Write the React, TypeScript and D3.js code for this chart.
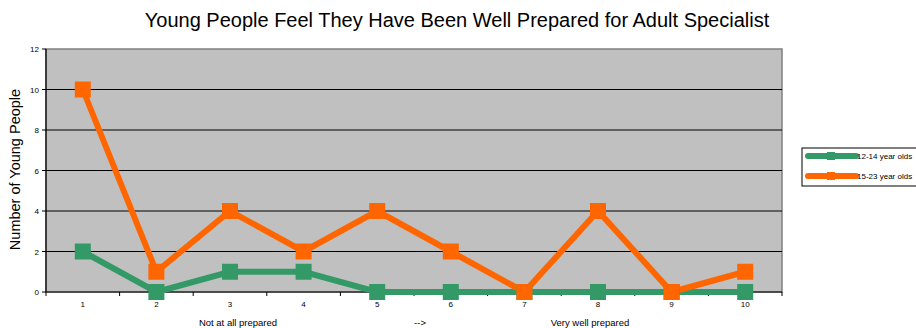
import React from "react";
import * as d3 from "d3";

const categories = ["1", "2", "3", "4", "5", "6", "7", "8", "9", "10"];
const youngerValues = [2, 0, 1, 1, 0, 0, 0, 0, 0, 0];
const olderValues = [10, 1, 4, 2, 4, 2, 0, 4, 0, 1];
const yTicks = [0, 2, 4, 6, 8, 10, 12];
const seriesNames = ["12-14 year olds", "15-23 year olds"];
const seriesColors = ["#339966", "#FF6600"];

const W = 916;
const H = 328;
const plot = { left: 46, right: 782, top: 49, bottom: 292 };

export default function App() {
  const x = d3
    .scaleBand<string>()
    .domain(categories)
    .range([plot.left, plot.right]);
  const y = d3.scaleLinear().domain([0, 12]).range([plot.bottom, plot.top]);
  const cx = (c: string) => (x(c) ?? 0) + x.bandwidth() / 2;
  const line = d3
    .line<number>()
    .x((_, i) => cx(categories[i]))
    .y((d) => y(d));

  const series = [youngerValues, olderValues];
  const ms = 16;
  const font = "Arial, 'Liberation Sans', sans-serif";

  return (
    <svg
      width={W}
      height={H}
      style={{ position: "absolute", left: 0, top: 0, background: "#fff" }}
      fontFamily={font}
    >
      <text x={457} y={27} textAnchor="middle" fontSize={20} fill="#000">
        Young People Feel They Have Been Well Prepared for Adult Specialist
      </text>

      <rect
        x={plot.left}
        y={plot.top}
        width={plot.right - plot.left}
        height={plot.bottom - plot.top}
        fill="#C0C0C0"
        stroke="#808080"
        strokeWidth={1.5}
      />
      {yTicks.slice(1, -1).map((t) => (
        <line
          key={t}
          x1={plot.left}
          x2={plot.right}
          y1={y(t)}
          y2={y(t)}
          stroke="#000"
          strokeWidth={1}
        />
      ))}

      {/* y axis */}
      <line x1={plot.left} x2={plot.left} y1={plot.top} y2={plot.bottom} stroke="#000" strokeWidth={1.2} />
      {yTicks.map((t) => (
        <g key={t}>
          <line x1={plot.left - 4} x2={plot.left} y1={y(t)} y2={y(t)} stroke="#000" />
          <text x={plot.left - 7} y={y(t) + 3} textAnchor="end" fontSize={8} fill="#000">
            {t}
          </text>
        </g>
      ))}

      {/* x axis */}
      <line x1={plot.left} x2={plot.right} y1={plot.bottom} y2={plot.bottom} stroke="#000" strokeWidth={1.2} />
      {categories.map((c) => (
        <line
          key={"t" + c}
          x1={(x(c) ?? 0) + x.bandwidth()}
          x2={(x(c) ?? 0) + x.bandwidth()}
          y1={plot.bottom}
          y2={plot.bottom + 4}
          stroke="#000"
        />
      ))}
      <line x1={plot.left} x2={plot.left} y1={plot.bottom} y2={plot.bottom + 4} stroke="#000" />
      {categories.map((c) => (
        <text key={"l" + c} x={cx(c)} y={307} textAnchor="middle" fontSize={8} fill="#000">
          {c}
        </text>
      ))}

      <text x={238} y={326} textAnchor="middle" fontSize={9.5} fill="#000">
        Not at all prepared
      </text>
      <text x={420} y={326} textAnchor="middle" fontSize={9.5} fill="#000">
        {"-->"}
      </text>
      <text x={590} y={326} textAnchor="middle" fontSize={9.5} fill="#000">
        Very well prepared
      </text>

      <text
        transform={`translate(20, ${(plot.top + plot.bottom) / 2 - 1}) rotate(-90)`}
        textAnchor="middle"
        fontSize={14.5}
        fill="#000"
      >
        Number of Young People
      </text>

      {/* series lines */}
      {series.map((vals, si) => (
        <path
          key={"p" + si}
          d={line(vals) ?? ""}
          fill="none"
          stroke={seriesColors[si]}
          strokeWidth={6}
          strokeLinejoin="miter"
        />
      ))}
      {/* series markers */}
      {series.map((vals, si) =>
        vals.map((v, i) => (
          <rect
            key={"m" + si + "-" + i}
            x={cx(categories[i]) - ms / 2}
            y={y(v) - ms / 2}
            width={ms}
            height={ms}
            fill={seriesColors[si]}
          />
        ))
      )}

      {/* legend */}
      <rect x={802} y={148} width={118} height={38} fill="#fff" stroke="#000" strokeWidth={1} />
      {seriesNames.map((name, i) => {
        const ly = 156 + i * 20;
        return (
          <g key={name}>
            <line
              x1={808}
              x2={856}
              y1={ly}
              y2={ly}
              stroke={seriesColors[i]}
              strokeWidth={6}
              strokeLinecap="round"
            />
            <rect x={827} y={ly - 4} width={8} height={8} fill={seriesColors[i]} />
            <text x={857} y={ly + 3} fontSize={8} fill="#000">
              {name}
            </text>
          </g>
        );
      })}
    </svg>
  );
}
